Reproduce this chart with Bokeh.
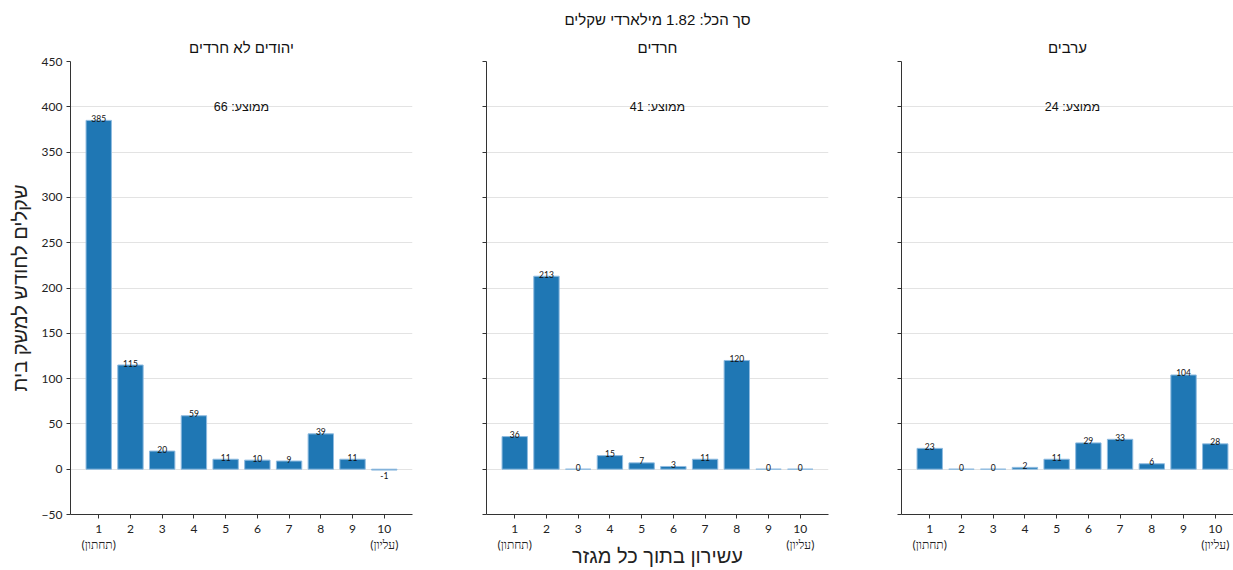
from bokeh.plotting import figure
from bokeh.layouts import row
from bokeh.models import ColumnDataSource, Label, FixedTicker, Title
from bokeh.core.properties import value
from bokeh.embed import file_html
from bokeh.resources import INLINE

# ---------------- data ----------------
deciles = [1, 2, 3, 4, 5, 6, 7, 8, 9, 10]
group_names = ["יהודים לא חרדים", "חרדים", "ערבים"]
non_haredi_jews = [385, 115, 20, 59, 11, 10, 9, 39, 11, -1]
haredim = [36, 213, 0, 15, 7, 3, 11, 120, 0, 0]
arabs = [23, 0, 0, 2, 11, 29, 33, 6, 104, 28]
group_means = [66, 41, 24]
suptitle = "סך הכל: 1.82 מילארדי שקלים"
y_label = "שקלים לחודש למשק בית"
x_label = "עשירון בתוך כל מגזר"
mean_prefix = "ממוצע: "
y_ticks = [-50, 0, 50, 100, 150, 200, 250, 300, 350, 400, 450]
low_tick_note = "(תחתון)"
high_tick_note = "(עליון)"

series = [non_haredi_jews, haredim, arabs]

# ---------------- style / layout ----------------
HEB = "Liberation Sans"
NUM = "Lato"
BAR = "#1f77b4"
EDGE = "#8fbbe0"
AXIS = "#333333"
GRID = "#e3e3e3"
FRAME_H = 453
X0 = 0.11
PX_PER_UNIT = 342 / 10.78
TOP, BOTTOM = 61, 56
panel_borders = [(70, 342, 37), (37, 342, 36), (37, 332, 0)]
title_offsets = [0, 0, 4]

figs = []
for i, (vals, name, mean) in enumerate(zip(series, group_names, group_means)):
    left, fw, right = panel_borders[i]
    x_end = X0 + fw / PX_PER_UNIT
    p = figure(width=left + fw + right, height=TOP + FRAME_H + BOTTOM,
               x_range=(X0, x_end), y_range=(-50, 450),
               output_backend="svg", toolbar_location=None,
               min_border_left=left, min_border_right=right,
               min_border_top=TOP, min_border_bottom=BOTTOM)
    p.outline_line_color = None
    p.background_fill_color = "white"
    p.xgrid.visible = False
    p.ygrid.grid_line_color = GRID
    p.ygrid.grid_line_width = 1
    p.ygrid.ticker = FixedTicker(ticks=y_ticks)

    src = ColumnDataSource(dict(x=deciles, top=vals))
    p.vbar(x="x", top="top", bottom=0, width=0.8, source=src,
           fill_color=BAR, line_color=EDGE, line_width=1)

    pos = [(x, v) for x, v in zip(deciles, vals) if v >= 0]
    neg = [(x, v) for x, v in zip(deciles, vals) if v < 0]
    if pos:
        s = ColumnDataSource(dict(x=[a for a, _ in pos], y=[b for _, b in pos],
                                  t=[str(b) for _, b in pos]))
        p.text(x="x", y="y", text="t", source=s, text_align="center",
               text_baseline="alphabetic", y_offset=-2, text_font=value(NUM),
               text_font_size="8.5px", text_color="#111111")
    if neg:
        s = ColumnDataSource(dict(x=[a for a, _ in neg], y=[b for _, b in neg],
                                  t=[str(b) for _, b in neg]))
        p.text(x="x", y="y", text="t", source=s, text_align="center",
               text_baseline="top", y_offset=2, text_font=value(NUM),
               text_font_size="8.5px", text_color="#111111")

    # axes
    p.xaxis.ticker = FixedTicker(ticks=deciles)
    p.xaxis.major_label_overrides = {1: "1\n" + low_tick_note,
                                     10: "10\n" + high_tick_note}
    p.yaxis.ticker = FixedTicker(ticks=y_ticks)
    for ax in (p.xaxis[0], p.yaxis[0]):
        ax.axis_line_color = AXIS
        ax.major_tick_line_color = AXIS
        ax.minor_tick_line_color = None
        ax.major_tick_out = 4
        ax.major_tick_in = 0
        ax.major_label_text_font = NUM
        ax.major_label_text_font_size = "12px"
        ax.major_label_text_color = "#222222"
        ax.major_label_standoff = 4
    p.xaxis.major_label_text_line_height = 1.1
    p.xaxis.major_label_standoff = 2
    if i == 0:
        p.yaxis.axis_label = y_label
        p.yaxis.axis_label_text_font = HEB
        p.yaxis.axis_label_text_font_size = "20px"
        p.yaxis.axis_label_text_font_style = "normal"
        p.yaxis.axis_label_text_color = "#222222"
        p.yaxis.axis_label_standoff = 8
    else:
        p.yaxis.major_label_overrides = {t: "" for t in y_ticks}
    if i == 1:
        p.xaxis.axis_label = x_label
        p.xaxis.axis_label_text_font = HEB
        p.xaxis.axis_label_text_font_size = "20px"
        p.xaxis.axis_label_text_font_style = "normal"
        p.xaxis.axis_label_text_color = "#222222"
        p.xaxis.axis_label_text_line_height = 1.0
        p.xaxis.axis_label_standoff = -10

    # panel title (closest to frame)
    p.add_layout(Title(text=name, align="center", offset=title_offsets[i],
                       text_font=HEB, text_font_size="15px",
                       text_font_style="normal", text_color="#111111",
                       standoff=11), "above")
    if i == 1:
        p.add_layout(Title(text=suptitle, align="center", offset=-11,
                           text_font=HEB, text_font_size="15px",
                           text_font_style="normal", text_color="#111111",
                           standoff=7), "above")
    # mean
    p.add_layout(Label(x=5.5, y=400, text=mean_prefix + str(mean),
                       text_align="center", text_baseline="alphabetic",
                       text_font=HEB, text_font_size="12.5px", text_color="#111111"))
    figs.append(p)

layout = row(*figs)
open("out.html", "w").write(file_html(layout, INLINE))
